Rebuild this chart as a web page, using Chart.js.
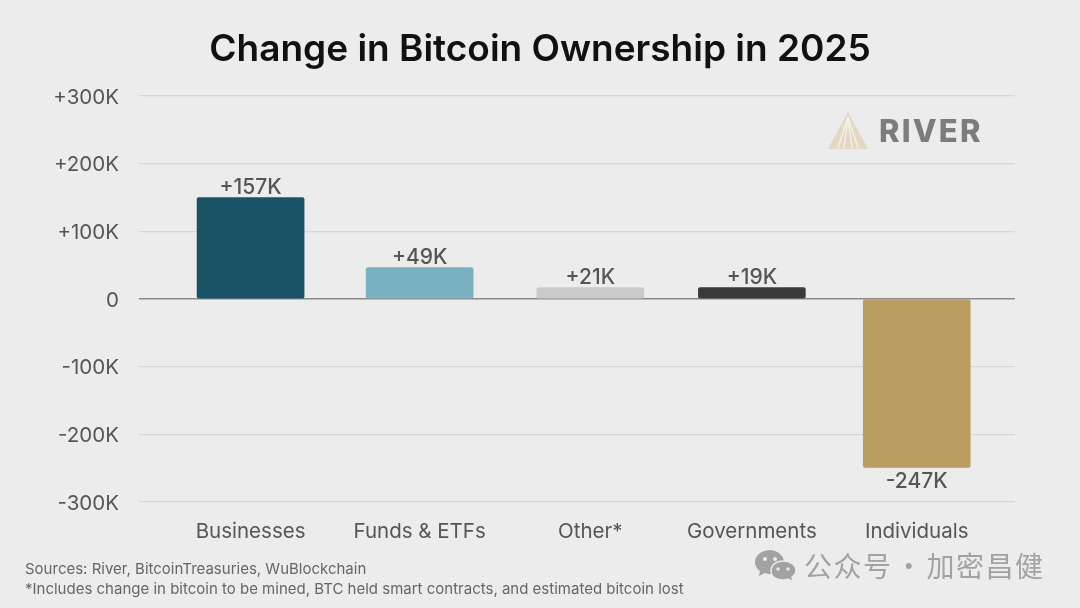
<!DOCTYPE html>
<html>
<head>
<meta charset="utf-8">
<script src="https://cdn.jsdelivr.net/npm/chart.js@4"></script>
<style>
  html, body { margin: 0; padding: 0; background: #ececec; }
  #wrap { position: relative; width: 1080px; height: 608px; overflow: hidden; font-family: Inter, sans-serif; }
  #myChart { position: absolute; left: 0; top: 0; }
  .notes { position: absolute; left: 25px; top: 559px; font-size: 15px; line-height: 20px; color: #666; white-space: nowrap; }
  .river { position: absolute; left: 879px; top: 112px; font-size: 31px; line-height: 38px; font-weight: 800; color: #7c7c7c; letter-spacing: 2.2px; }
  .logo { position: absolute; left: 827px; top: 111px; }
  .wechat { position: absolute; left: 755px; top: 549px; }
  .account { position: absolute; left: 804px; top: 546px; font-family: "Noto Sans CJK SC", sans-serif; font-size: 28px; line-height: 38px; color: #a2a2a2; letter-spacing: 1.5px; word-spacing: -5.5px; white-space: nowrap; }
</style>
</head>
<body>
<div id="wrap">
  <canvas id="myChart" width="1080" height="608"></canvas>

  <svg class="logo" width="42" height="40" viewBox="0 0 42 40">
    <path d="M21 1 L1 38 L41 38 Z" fill="#e2d8c4"/>
    <path d="M21 6 L11 37 M21 6 L17 37 M21 6 L25 37 M21 6 L31 37" stroke="#f3efe6" stroke-width="1.6" fill="none"/>
  </svg>
  <div class="river">RIVER</div>

  <div class="notes">Sources: River, BitcoinTreasuries, WuBlockchain<br>*Includes change in bitcoin to be mined, BTC held smart contracts, and estimated bitcoin lost</div>

  <svg class="wechat" width="42" height="34" viewBox="0 0 42 34">
    <path d="M15 1 C7 1 0 6 0 13 C0 17 2 20 5 22 L4 27 L10 24 C12 25 14 25 16 25 C25 25 30 19 29 12 C28 6 22 1 15 1 Z" fill="#a2a2a2"/>
    <path d="M28 12 C21 12 16 16 16 22 C16 28 22 31 28 31 C30 31 31 31 33 30 L38 33 L37 28 C40 26 41 24 41 21 C41 16 35 12 28 12 Z" fill="#a2a2a2" stroke="#ececec" stroke-width="1.5"/>
    <circle cx="10" cy="10" r="2" fill="#ececec"/><circle cx="20" cy="10" r="2" fill="#ececec"/>
    <circle cx="23" cy="20" r="1.7" fill="#ececec"/><circle cx="33" cy="20" r="1.7" fill="#ececec"/>
  </svg>
  <div class="account">公众号 · 加密昌健</div>
</div>

<script>
const categories = ["Businesses", "Funds & ETFs", "Other*", "Governments", "Individuals"];
// where each category sits on the x axis, the original is not evenly spaced
const slots = [0, 1.015, 2.04, 3.01, 4];
// bar heights as read against the y axis, in thousands of BTC
const values = [150, 46.5, 17, 17, -249];
// printed labels, they differ a little from the drawn heights
const valueLabels = ["+157K", "+49K", "+21K", "+19K", "-247K"];
const yTicks = ["-300K", "-200K", "-100K", "0", "+100K", "+200K", "+300K"];
const barColors = ["#1a5266", "#7ab1c1", "#cacaca", "#3a3a3a", "#bb9c61"];

// prints the value labels just outside the end of each bar
const barLabels = {
  id: "barLabels",
  afterLayout(chart) {
    // title is centred on the whole page, not on the plot
    chart.titleBlock.left = 0;
    chart.titleBlock.right = chart.width;
  },
  afterDatasetsDraw(chart) {
    const c = chart.ctx;
    c.save();
    c.font = "500 21px Inter";
    c.fillStyle = "#555";
    c.textAlign = "center";
    chart.getDatasetMeta(0).data.forEach((bar, i) => {
      const up = values[i] >= 0;
      c.textBaseline = up ? "bottom" : "top";
      c.fillText(valueLabels[i], bar.x, bar.y + (up ? 0.5 : 4));
    });
    c.restore();
  },
};

new Chart(document.getElementById("myChart"), {
  type: "bar",
  data: {
    datasets: [
      {
        data: values.map((v, i) => ({ x: slots[i], y: v })),
        backgroundColor: barColors,
        barThickness: 107,
        borderRadius: 2,
        borderSkipped: "middle",
      },
    ],
  },
  options: {
    responsive: false,
    animation: false,
    layout: { padding: { top: 0, right: 65, bottom: 0, left: 0 } },
    scales: {
      x: {
        type: "linear",
        offset: false,
        min: -0.67,
        max: 4.59,
        grid: { display: false },
        border: { display: false },
        afterFit(scale) {
          scale.height = 106;
        },
        afterBuildTicks(scale) {
          scale.ticks = slots.map((v) => ({ value: v }));
        },
        ticks: {
          maxRotation: 0,
          autoSkip: false,
          padding: 10,
          color: "#555",
          font: { family: "Inter", size: 20.5 },
          callback: (v, i) => categories[i],
        },
      },
      y: {
        min: -300,
        max: 300,
        grid: {
          drawTicks: false,
          lineWidth: (ctx) => (ctx.tick.value === 0 ? 1.5 : 1.2),
          color: (ctx) => (ctx.tick.value === 0 ? "#8a8a8a" : "#d6d6d6"),
        },
        border: { display: false },
        afterFit(scale) {
          scale.width = 139;
        },
        ticks: {
          stepSize: 100,
          padding: 20,
          labelOffset: 1.5,
          color: "#555",
          font: { family: "Inter", size: 20.5 },
          callback: (v) => yTicks[(v + 300) / 100],
        },
      },
    },
    plugins: {
      legend: { display: false },
      tooltip: { enabled: false },
      title: {
        display: true,
        text: "Change in Bitcoin Ownership in 2025",
        color: "#111",
        font: { family: "Inter", size: 37, weight: "600" },
        padding: { top: 28, bottom: 23.6 },
      },
    },
  },
  plugins: [barLabels],
});
</script>
</body>
</html>
